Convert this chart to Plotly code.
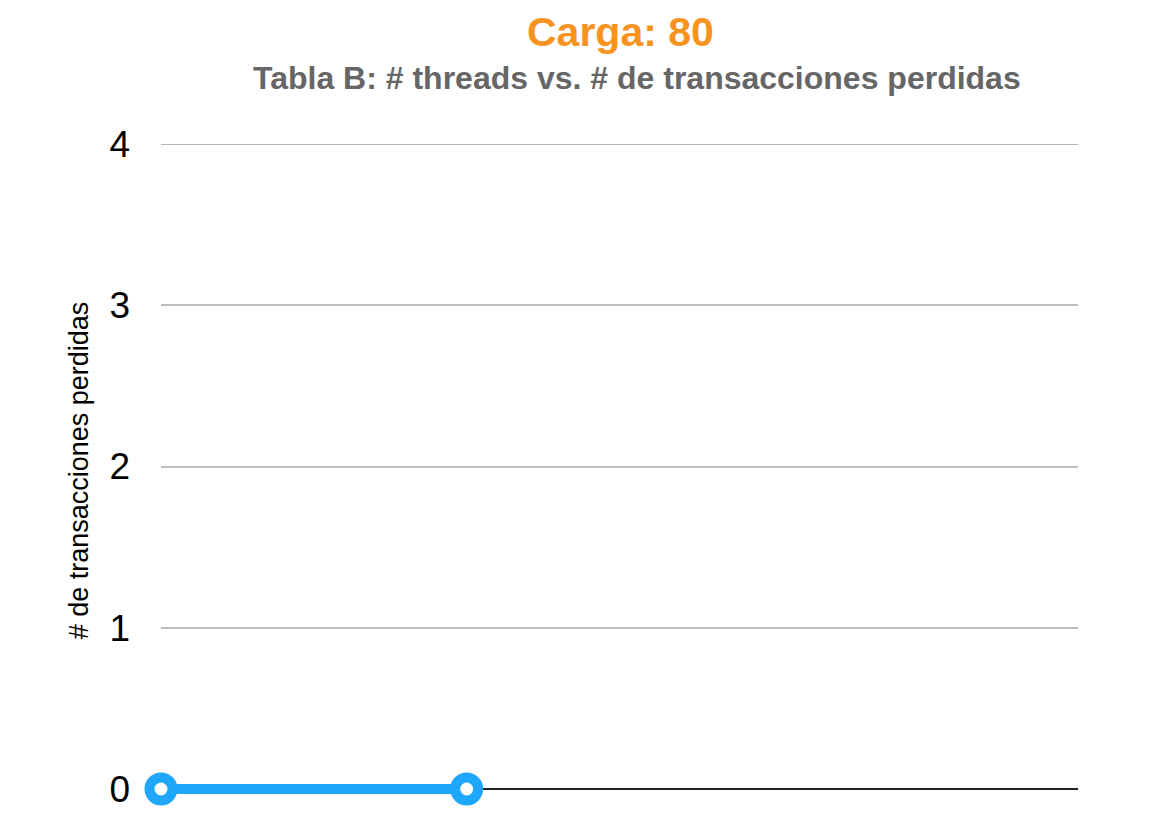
import plotly.graph_objects as go

threads = [1, 2]
perdidas = [0, 0]
y_ticks = [0, 1, 2, 3, 4]

W, H = 1150, 828
l, r, t, b = 161, 72, 144, 31
pw, ph = W - l - r, H - t - b
y_min = -8 / 161.25  # small headroom below zero so the thick line is not clipped

def px2paper(px, py):
    return (px - l) / pw, (H - b - py) / ph

fig = go.Figure()
fig.add_trace(go.Scatter(
    x=threads, y=perdidas, mode="lines+markers",
    line=dict(color="#1EA7FD", width=10),
    marker=dict(size=23, color="white", line=dict(color="#1EA7FD", width=10)),
    cliponaxis=False, showlegend=False,
))

# top gridline (plotly hides gridlines at the exact axis edge)
fig.add_shape(type="line", xref="paper", x0=0, x1=1, yref="y", y0=y_ticks[-1], y1=y_ticks[-1],
              line=dict(color="#B5B5B5", width=2), layer="below")

tx, ty = px2paper(620, 32)
sx, sy = px2paper(637, 78)

fig.update_layout(
    width=W, height=H,
    margin=dict(l=l, r=r, t=t, b=b),
    plot_bgcolor="white", paper_bgcolor="white",
    font=dict(family="Liberation Sans, Arial, sans-serif"),
    xaxis=dict(range=[1, 4], showgrid=False, showticklabels=False, zeroline=False,
               showline=False, ticks=""),
    yaxis=dict(range=[y_min, 4], tickvals=y_ticks, showgrid=True, gridcolor="#BDBDBD",
               gridwidth=1.5, zeroline=True, zerolinecolor="#222222", zerolinewidth=2,
               tickfont=dict(size=37, color="black"), ticks="", ticklabelstandoff=30,
               title=dict(text="# de transacciones perdidas", font=dict(size=27, color="black"),
                          standoff=12)),
    annotations=[
        dict(text="<b>Carga: 80</b>", x=tx, y=ty, xref="paper", yref="paper",
             xanchor="center", yanchor="middle",
             showarrow=False, font=dict(size=41, color="#F7931E")),
        dict(text="<b>Tabla B: # threads vs. # de transacciones perdidas</b>", x=sx, y=sy,
             xref="paper", yref="paper", xanchor="center", yanchor="middle",
             showarrow=False, font=dict(size=32, color="#666666")),
    ],
)
fig.write_html("out.html")
